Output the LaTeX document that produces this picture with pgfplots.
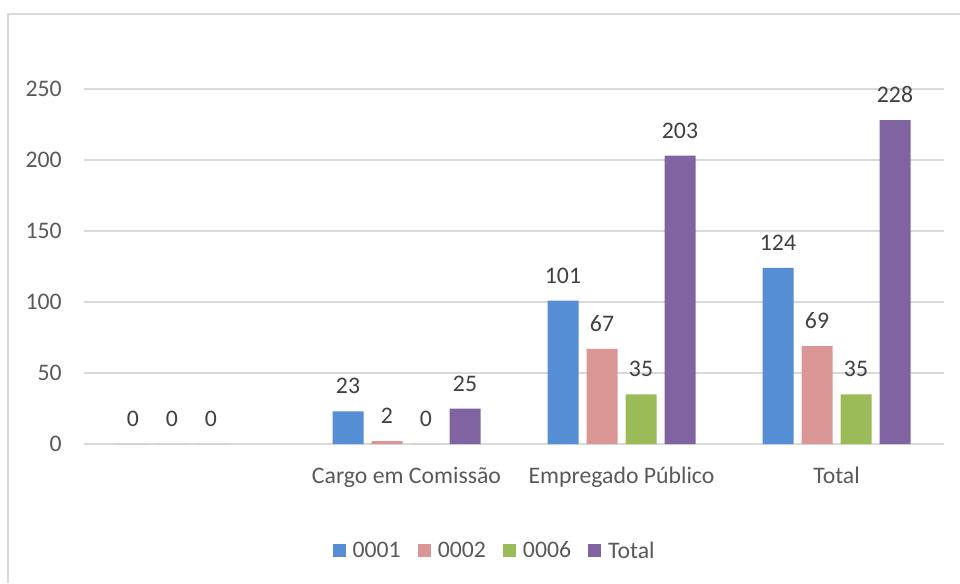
\documentclass[border=0pt]{standalone}
\usepackage{fontspec}
\setmainfont{Carlito}
\usepackage{pgfplots}
\pgfplotsset{compat=1.18}
\definecolor{cA}{HTML}{558ED5}
\definecolor{cB}{HTML}{D99694}
\definecolor{cC}{HTML}{9BBB59}
\definecolor{cD}{HTML}{8064A2}
\definecolor{gridc}{HTML}{D9D9D9}
\definecolor{tickc}{HTML}{595959}
\definecolor{labc}{HTML}{404040}
\newcommand{\cf}{\fontsize{17.8}{21}\selectfont}
\begin{document}
\begin{tikzpicture}
\path[use as bounding box] (0,0) rectangle (720pt,437.25pt);
\draw[gridc, line width=1.3pt] (6pt,0) -- (6pt,426.75pt) -- (720pt,426.75pt);
\begin{axis}[
  at={(63pt,104.25pt)}, anchor=south west,
  scale only axis, width=645pt, height=266.25pt,
  ybar=6pt, bar width=23.25pt,
  xmin=-0.5, xmax=3.5, ymin=0, ymax=250,
  xtick={1,2,3},
  xticklabels={Cargo em Comissão, Empregado Público, Total},
  ytick={0,50,100,150,200,250},
  ymajorgrids, grid style={gridc, line width=0.9pt},
  axis line style={draw=none},
  major tick length=0pt, tick style={draw=none},
  /pgf/number format/assume math mode=true,
  tick label style={font=\cf, text=tickc},
  yticklabel style={anchor=east, inner sep=0pt, xshift=-16.5pt},
  xticklabel style={anchor=base, inner sep=0pt, yshift=-29.25pt},
  clip=false,
  nodes near coords,
  every node near coord/.append style={font=\cf, text=labc, anchor=south, inner sep=0pt, yshift=12.75pt},
  legend columns=4,
  legend style={draw=none, font=\cf, text=tickc, at={(0.478,-0.301)}, anchor=center,
    /tikz/every odd column/.append style={column sep=3pt},
    /tikz/every even column/.append style={column sep=11pt}},
  legend image code/.code={\fill[#1] (0pt,-4.9pt) rectangle (9.8pt,4.9pt);},
]
\addplot[fill=cA, draw=none] coordinates {(0,0) (1,23) (2,101) (3,124)};
\addplot[fill=cB, draw=none] coordinates {(0,0) (1,2) (2,67) (3,69)};
\addplot[fill=cC, draw=none] coordinates {(0,0) (1,0) (2,35) (3,35)};
\addplot[fill=cD, draw=none] coordinates {(1,25) (2,203) (3,228)};
\legend{0001,0002,0006,Total}
\end{axis}
\end{tikzpicture}
\end{document}
